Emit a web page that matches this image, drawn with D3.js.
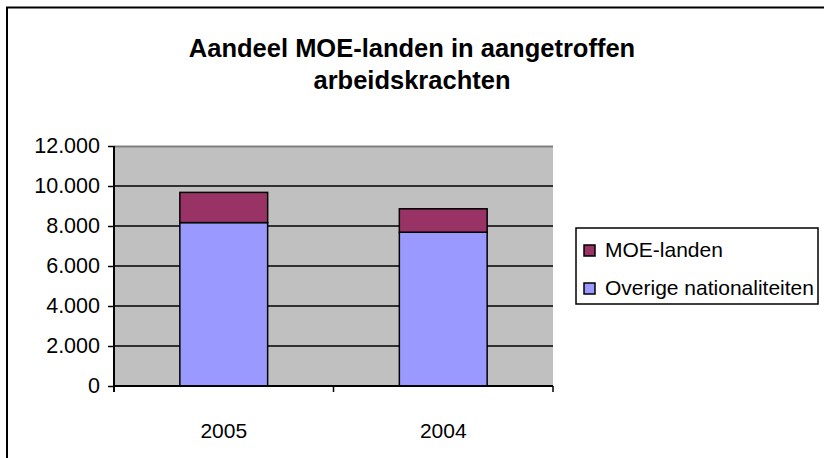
<!DOCTYPE html>
<html>
<head>
<meta charset="utf-8">
<script src="https://cdn.jsdelivr.net/npm/d3@7"></script>
<style>
  body { margin: 0; background: #fff; }
  svg { display: block; font-family: "Liberation Sans", Arial, sans-serif; }
</style>
</head>
<body>
<svg id="chart" width="824" height="458"></svg>
<script>
// data
var years = ["2005", "2004"];
var overige = [8170, 7690];
var moe = [1510, 1170];
var seriesNames = ["MOE-landen", "Overige nationaliteiten"];
var seriesColors = ["#993366", "#9999FF"];
var yTicks = [0, 2000, 4000, 6000, 8000, 10000, 12000];

var svg = d3.select("#chart");

// outer frame (runs off right/bottom edge)
svg.append("rect")
  .attr("x", 7).attr("y", 7.5)
  .attr("width", 840).attr("height", 480)
  .attr("fill", "#fff").attr("stroke", "#000").attr("stroke-width", 2);

var plot = { left: 114, top: 146, right: 553, bottom: 386 };

var x = d3.scaleBand().domain(years).range([plot.left, plot.right]).paddingInner(0).paddingOuter(0);
var y = d3.scaleLinear().domain([0, 12000]).range([plot.bottom, plot.top]);

// plot background
svg.append("rect")
  .attr("x", plot.left).attr("y", plot.top)
  .attr("width", plot.right - plot.left).attr("height", plot.bottom - plot.top)
  .attr("fill", "#C0C0C0");
svg.append("line")
  .attr("x1", plot.left).attr("x2", plot.right)
  .attr("y1", plot.top + 0.5).attr("y2", plot.top + 0.5)
  .attr("stroke", "#808080").attr("stroke-width", 2);

// gridlines
svg.append("g").selectAll("line")
  .data(yTicks.filter(function(d) { return d > 0 && d < 12000; }))
  .join("line")
  .attr("x1", plot.left).attr("x2", plot.right)
  .attr("y1", function(d) { return y(d); }).attr("y2", function(d) { return y(d); })
  .attr("stroke", "#000").attr("stroke-width", 1.5);

// stacked bars
var bw = x.bandwidth() * 0.4;
var stacks = years.map(function(yr, i) {
  return [
    { y0: 0, y1: overige[i], color: seriesColors[1], yr: yr },
    { y0: overige[i], y1: overige[i] + moe[i], color: seriesColors[0], yr: yr }
  ];
});
svg.append("g").selectAll("rect")
  .data(stacks.flat())
  .join("rect")
  .attr("x", function(d) { return x(d.yr) + (x.bandwidth() - bw) / 2; })
  .attr("width", bw)
  .attr("y", function(d) { return y(d.y1); })
  .attr("height", function(d) { return y(d.y0) - y(d.y1); })
  .attr("fill", function(d) { return d.color; })
  .attr("stroke", "#000").attr("stroke-width", 1.5);

// y axis
var yAxis = svg.append("g")
  .attr("transform", "translate(" + plot.left + ",0)")
  .call(d3.axisLeft(y).tickValues(yTicks).tickSize(6).tickPadding(8)
    .tickFormat(function(d) { return d3.format(",")(d).replace(/,/g, "."); }));
yAxis.select(".domain").attr("stroke-width", 2).attr("d", "M0," + plot.top + "V" + (plot.bottom + 6));
yAxis.selectAll(".tick line").attr("stroke-width", 1.5);
yAxis.selectAll("text").attr("font-size", 21.5).attr("fill", "#000")
  .attr("font-family", "Liberation Sans, Arial, sans-serif");

// x axis
var xAxis = svg.append("g")
  .attr("transform", "translate(0," + plot.bottom + ")")
  .call(d3.axisBottom(x).tickSize(0).tickPadding(37));
xAxis.select(".domain").attr("stroke-width", 2).attr("d", "M" + plot.left + ",0H" + plot.right);
xAxis.selectAll("text").attr("font-size", 21).attr("fill", "#000")
  .attr("font-family", "Liberation Sans, Arial, sans-serif");
var xTickPos = [plot.left, plot.left + x.bandwidth(), plot.right];
svg.append("g").selectAll("line").data(xTickPos).join("line")
  .attr("x1", function(d) { return d; }).attr("x2", function(d) { return d; })
  .attr("y1", plot.bottom).attr("y2", plot.bottom + 6)
  .attr("stroke", "#000").attr("stroke-width", 1.5);

// title
var title = svg.append("text")
  .attr("x", 412).attr("text-anchor", "middle")
  .attr("font-size", 25.5).attr("font-weight", "bold");
title.append("tspan").attr("x", 412).attr("y", 57).text("Aandeel MOE-landen in aangetroffen");
title.append("tspan").attr("x", 412).attr("y", 89).text("arbeidskrachten");

// legend
var legend = svg.append("g");
legend.append("rect")
  .attr("x", 576).attr("y", 228).attr("width", 242).attr("height", 76)
  .attr("fill", "#fff").attr("stroke", "#000").attr("stroke-width", 1.5);
var items = legend.selectAll("g.item")
  .data(seriesNames)
  .join("g")
  .attr("transform", function(d, i) { return "translate(584," + (250 + i * 38) + ")"; });
items.append("rect")
  .attr("x", 0).attr("y", -5).attr("width", 11).attr("height", 11)
  .attr("fill", function(d, i) { return seriesColors[i]; })
  .attr("stroke", "#000").attr("stroke-width", 1.5);
items.append("text")
  .attr("x", 21).attr("y", 7)
  .attr("font-size", 21)
  .text(function(d) { return d; });
</script>
</body>
</html>
